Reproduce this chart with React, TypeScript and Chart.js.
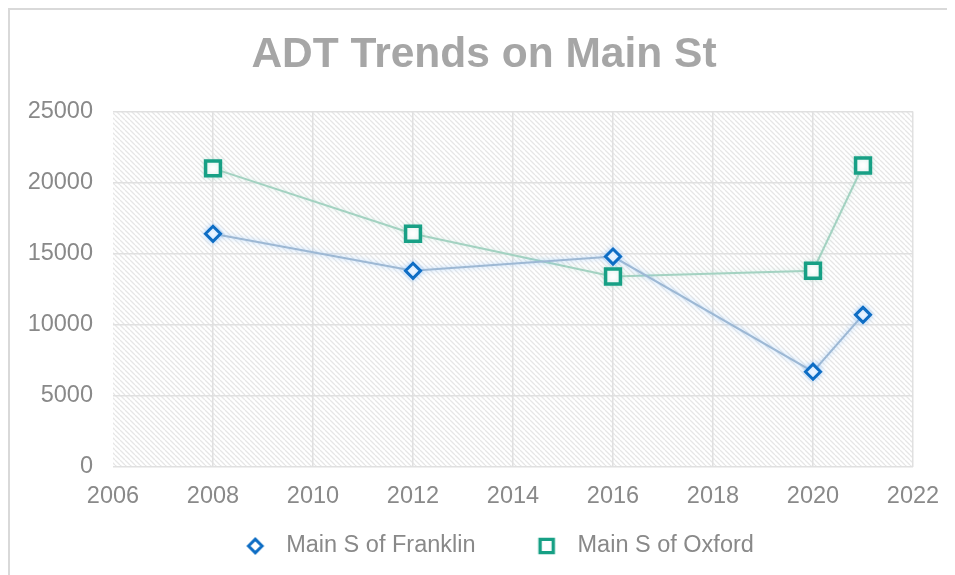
import { useEffect, useRef } from 'react';
import { Chart, registerables } from 'chart.js';

Chart.register(...registerables);

const years = [2008, 2012, 2016, 2020, 2021];
const franklin = [16400, 13800, 14800, 6700, 10700];
const oxford = [21000, 16400, 13400, 13800, 21200];
const seriesNames = ['Main S of Franklin', 'Main S of Oxford'];
const xRange = [2006, 2022];
const yRange = [0, 25000];
const titleText = 'ADT Trends on Main St';

const BLUE = '#0e6dc4';
const TEAL = '#17a085';
const TICK = '#898989';
const GRID = '#e0e0e0';
const FONT = '"Liberation Sans", Arial, sans-serif';
const LEGEND_BOX = 60.25;

function makeHatch(): CanvasPattern | string {
  const s = 5;
  const c = document.createElement('canvas');
  c.width = s;
  c.height = s;
  const g = c.getContext('2d');
  if (!g) return '#f3f3f3';
  g.fillStyle = '#ffffff';
  g.fillRect(0, 0, s, s);
  g.strokeStyle = '#e6e6e6';
  g.lineWidth = 1.3;
  g.beginPath();
  for (const o of [-s, 0, s]) {
    g.moveTo(o, 0);
    g.lineTo(o + s, s);
  }
  g.stroke();
  const p = g.createPattern(c, 'repeat');
  return p || '#f3f3f3';
}

// legend icon: transparent image as wide as the legend box, marker near its right end
function makeIcon(kind: 'diamond' | 'square'): HTMLCanvasElement {
  const c = document.createElement('canvas');
  c.width = Math.round(LEGEND_BOX);
  c.height = 24;
  const g = c.getContext('2d')!;
  const cx = LEGEND_BOX - 19.25;
  const cy = 12;
  g.fillStyle = '#fff';
  if (kind === 'diamond') {
    const r = 6.8;
    g.strokeStyle = BLUE;
    g.lineWidth = 3;
    g.beginPath();
    g.moveTo(cx - r, cy);
    g.lineTo(cx, cy - r);
    g.lineTo(cx + r, cy);
    g.lineTo(cx, cy + r);
    g.closePath();
    g.fill();
    g.stroke();
  } else {
    const h = 6.6;
    g.strokeStyle = TEAL;
    g.lineWidth = 3.4;
    g.beginPath();
    g.rect(cx - h, cy - h, 2 * h, 2 * h);
    g.fill();
    g.stroke();
  }
  return c;
}

export default function App() {
  const ref = useRef<HTMLCanvasElement | null>(null);

  useEffect(() => {
    document.documentElement.style.overflow = 'hidden';
    document.body.style.overflow = 'hidden';
    const canvas = ref.current;
    if (!canvas) return;
    const hatch = makeHatch();
    const icons = [makeIcon('diamond'), makeIcon('square')];
    const glow = ['rgba(110,180,255,0.55)', 'rgba(140,210,190,0.35)'];

    const hatchPlugin = {
      id: 'hatchBg',
      beforeDraw(chart: any) {
        const { ctx, chartArea } = chart;
        ctx.save();
        ctx.fillStyle = hatch;
        ctx.fillRect(chartArea.left, chartArea.top, chartArea.right - chartArea.left, chartArea.bottom - chartArea.top);
        ctx.restore();
      },
    };
    const glowPlugin = {
      id: 'glow',
      beforeDatasetDraw(chart: any, args: any) {
        const ctx = chart.ctx;
        ctx.save();
        ctx.shadowColor = glow[args.index] || 'transparent';
        ctx.shadowBlur = 5;
      },
      afterDatasetDraw(chart: any) {
        chart.ctx.restore();
      },
    };

    const chart = new Chart(canvas, {
      type: 'line',
      data: {
        datasets: [
          {
            label: seriesNames[0],
            data: years.map((x, i) => ({ x, y: franklin[i] })),
            borderColor: '#9db8d4',
            borderWidth: 2,
            pointStyle: 'rectRot',
            pointRadius: 7.5,
            pointBorderWidth: 3,
            pointBorderColor: BLUE,
            pointBackgroundColor: '#ffffff',
            tension: 0,
          },
          {
            label: seriesNames[1],
            data: years.map((x, i) => ({ x, y: oxford[i] })),
            borderColor: '#a3d2c1',
            borderWidth: 2,
            pointStyle: 'rect',
            pointRadius: 10.5,
            pointBorderWidth: 3.5,
            pointBorderColor: TEAL,
            pointBackgroundColor: '#ffffff',
            tension: 0,
          },
        ],
      },
      options: {
        responsive: false,
        animation: false,
        layout: { padding: { left: 10, right: 7, top: 0, bottom: 7.25 } },
        scales: {
          x: {
            type: 'linear',
            min: xRange[0],
            max: xRange[1],
            border: { display: false },
            grid: {
              drawTicks: false,
              lineWidth: 1.5,
              color: (c: any) => (c.tick && c.tick.value === xRange[0] ? 'rgba(0,0,0,0)' : GRID),
            },
            ticks: {
              stepSize: 2,
              padding: 15,
              color: TICK,
              font: { family: FONT, size: 23.5 },
              callback: (v: any) => String(v),
            },
            afterFit: (s: any) => {
              s.height = 37.25;
            },
          },
          y: {
            min: yRange[0],
            max: yRange[1],
            border: { display: false },
            grid: { drawTicks: false, lineWidth: 1.5, color: GRID },
            ticks: {
              stepSize: 5000,
              padding: 20,
              color: TICK,
              font: { family: FONT, size: 23.5 },
              callback: (v: any) => String(v),
            },
            afterFit: (s: any) => {
              s.width = 93;
            },
          },
          yRight: {
            type: 'linear',
            position: 'right',
            display: true,
            grid: { display: false, drawTicks: false },
            border: { display: false },
            ticks: { display: false },
            afterFit: (s: any) => {
              s.width = 35;
            },
          },
        },
        plugins: {
          title: {
            display: true,
            text: titleText,
            color: '#a6a6a6',
            font: { family: FONT, size: 42.5, weight: 'bold' },
            padding: { top: 20, bottom: 30.5 },
          },
          legend: {
            position: 'bottom',
            labels: {
              usePointStyle: true,
              pointStyleWidth: LEGEND_BOX,
              padding: 30,
              color: TICK,
              font: { family: FONT, size: 23.5 },
              generateLabels: (ch: any) => {
                const items = (Chart.defaults.plugins.legend.labels as any).generateLabels(ch);
                return items
                  .filter((it: any) => it.datasetIndex < seriesNames.length)
                  .map((it: any, i: number) => ({ ...it, pointStyle: icons[i], fontColor: TICK }));
              },
            },
          },
          tooltip: { enabled: false },
        },
      } as any,
      plugins: [hatchPlugin, glowPlugin],
    });
    return () => chart.destroy();
  }, []);

  return (
    <div
      style={{
        width: 945,
        height: 565,
        borderLeft: '2px solid #d9d9d9',
        borderTop: '2px solid #d9d9d9',
        background: '#fff',
        overflow: 'hidden',
      }}
    >
      <canvas ref={ref} width={945} height={565} style={{ display: 'block', width: 945, height: 565 }} />
    </div>
  );
}
